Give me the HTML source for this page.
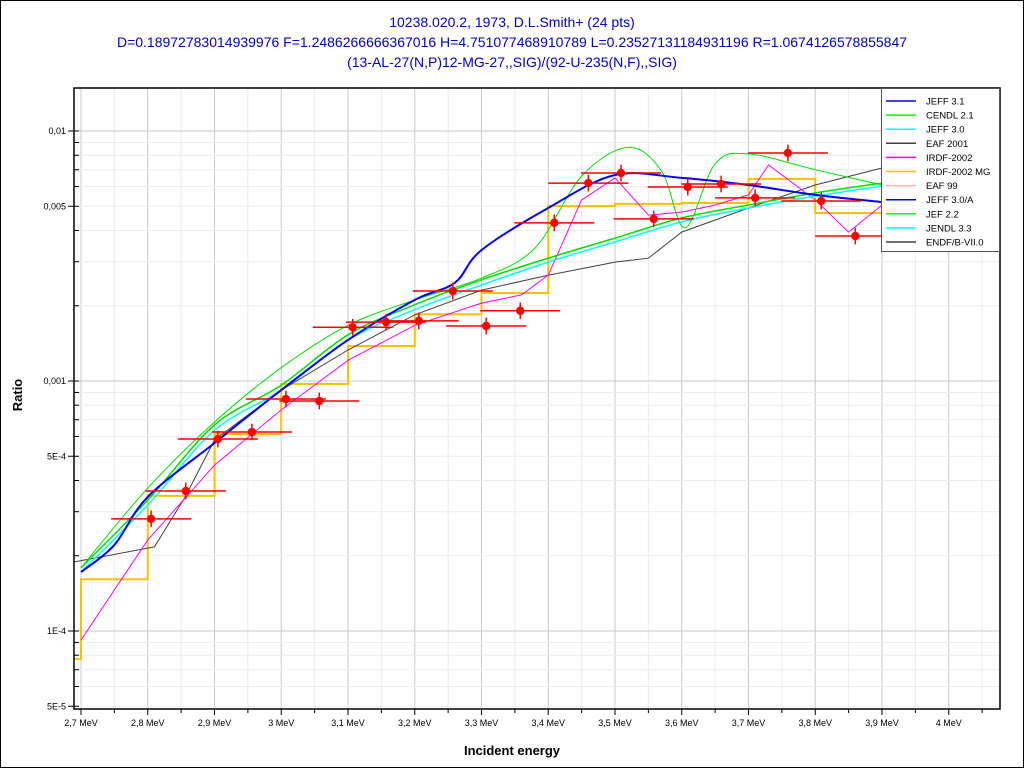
<!DOCTYPE html>
<html><head><meta charset="utf-8"><style>
body{margin:0;background:#fff;}
svg{display:block;font-family:"Liberation Sans",Arial,sans-serif;}
</style></head><body>
<svg id="chart" width="1024" height="768" viewBox="0 0 1024 768">
<rect x="0.5" y="0.5" width="1023" height="767" fill="#fff" stroke="#000"/>
<g fill="#0000c8" font-size="14" text-anchor="middle">
<text x="512" y="27">10238.020.2, 1973, D.L.Smith+ (24 pts)</text>
<text x="512" y="47">D=0.18972783014939976 F=1.2486266666367016 H=4.751077468910789 L=0.23527131184931196 R=1.0674126578855847</text>
<text x="512" y="67">(13-AL-27(N,P)12-MG-27,,SIG)/(92-U-235(N,F),,SIG)</text>
</g>
<g id="grid"></g>
<g id="plot"></g>
<g id="axes"></g>
<text x="22" y="395" transform="rotate(-90 22 395)" font-size="13" font-weight="bold" text-anchor="middle">Ratio</text>
<text x="512" y="755" font-size="13" font-weight="bold" text-anchor="middle">Incident energy</text>
<g id="legend"></g>
</svg>
<script>
// ---- data ----
const xTicks=[2.7,2.8,2.9,3.0,3.1,3.2,3.3,3.4,3.5,3.6,3.7,3.8,3.9,4.0];
const xTickLabels=["2,7 MeV","2,8 MeV","2,9 MeV","3 MeV","3,1 MeV","3,2 MeV","3,3 MeV","3,4 MeV","3,5 MeV","3,6 MeV","3,7 MeV","3,8 MeV","3,9 MeV","4 MeV"];
const yTicks=[0.01,0.005,0.001,0.0005,0.0001,0.00005];
const yTickLabels=["0,01","0,005","0,001","5E-4","1E-4","5E-5"];
const expE=[2.805,2.857,2.905,2.956,3.007,3.057,3.107,3.157,3.206,3.257,3.307,3.358,3.409,3.46,3.509,3.558,3.609,3.659,3.71,3.759,3.809,3.86];
const expV=[2.81e-4,3.63e-4,5.86e-4,6.25e-4,8.47e-4,8.32e-4,1.64e-3,1.72e-3,1.74e-3,2.29e-3,1.66e-3,1.91e-3,4.29e-3,6.19e-3,6.79e-3,4.45e-3,5.97e-3,6.14e-3,5.40e-3,8.17e-3,5.25e-3,3.80e-3];
const expDE=0.06;
const blueE=[2.7,2.75,2.8,2.9,3.0,3.1,3.2,3.26,3.3,3.4,3.5,3.6,3.7,3.8,3.9];
const blueV=[1.72e-4,2.21e-4,3.44e-4,5.65e-4,9.2e-4,1.46e-3,2.11e-3,2.47e-3,3.34e-3,4.92e-3,6.67e-3,6.49e-3,6.08e-3,5.55e-3,5.2e-3];
const cendlE=[2.7,2.8,2.9,3.0,3.1,3.2,3.3,3.38,3.45,3.52,3.57,3.605,3.65,3.7,3.8,3.9];
const cendlV=[1.79e-4,3.73e-4,6.85e-4,1.13e-3,1.67e-3,2.11e-3,2.58e-3,3.4e-3,6.6e-3,8.6e-3,6.9e-3,4.1e-3,7.4e-3,8.1e-3,7.0e-3,6.08e-3];
const jefE=[2.7,2.8,2.9,3.0,3.1,3.2,3.3,3.4,3.5,3.6,3.7,3.8,3.9];
const jefV=[1.79e-4,3.34e-4,6.67e-4,9.62e-4,1.53e-3,2.02e-3,2.54e-3,3.1e-3,3.73e-3,4.49e-3,5.06e-3,5.65e-3,6.19e-3];
const cyanV=[1.72e-4,3.19e-4,6.35e-4,9.2e-4,1.46e-3,1.93e-3,2.42e-3,2.99e-3,3.6e-3,4.33e-3,4.92e-3,5.49e-3,6.02e-3];
const eafE=[2.69,2.81,2.855,2.9,3.0,3.1,3.2,3.3,3.4,3.5,3.55,3.6,3.7,3.8,3.9];
const eafV=[1.89e-4,2.17e-4,3.4e-4,5.81e-4,9.2e-4,1.33e-3,1.84e-3,2.31e-3,2.65e-3,2.99e-3,3.1e-3,3.94e-3,4.92e-3,6.08e-3,7.11e-3];
const irdfE=[2.7,2.75,2.8,2.9,3.0,3.1,3.2,3.3,3.36,3.4,3.45,3.5,3.55,3.6,3.65,3.7,3.73,3.8,3.85,3.9];
const irdfV=[9.2e-5,1.46e-4,2.31e-4,4.61e-4,7.66e-4,1.21e-3,1.67e-3,2.05e-3,2.21e-3,2.65e-3,5.3e-3,6.49e-3,4.61e-3,4.74e-3,5.06e-3,5.55e-3,7.31e-3,5.3e-3,3.94e-3,5.06e-3];
const mgEdges=[2.69,2.7,2.8,2.9,3.0,3.1,3.2,3.3,3.4,3.5,3.6,3.7,3.8,3.9];
const mgV=[7.73e-5,1.61e-4,3.47e-4,6.14e-4,9.73e-4,1.38e-3,1.85e-3,2.25e-3,5.01e-3,5.11e-3,5.15e-3,6.43e-3,4.7e-3];
const legendNames=["JEFF 3.1","CENDL 2.1","JEFF 3.0","EAF 2001","IRDF-2002","IRDF-2002 MG","EAF 99","JEFF 3.0/A","JEF 2.2","JENDL 3.3","ENDF/B-VII.0"];
const legendColors=["#0000ff","#00ff00","#00ffff","#404040","#ff00ff","#ffc000","#ffb0b0","#0000ff","#00ff00","#00ffff","#404040"];

// ---- scales ----
const L=74,R=1000,T=88,B=709;
function X(e){return 81+(e-2.7)*667.5;}
function Y(v){return 131-(Math.log10(v)+2)*250;}
const NS="http://www.w3.org/2000/svg";
function mk(tag,attrs,parent){const el=document.createElementNS(NS,tag);for(const k in attrs)el.setAttribute(k,attrs[k]);parent.appendChild(el);return el;}
const grid=document.getElementById('grid'),plot=document.getElementById('plot'),axes=document.getElementById('axes'),leg=document.getElementById('legend');

// grid
for(let e=2.7;e<=4.06;e+=0.05){
  const major=Math.abs(Math.round(e*10)-e*10)<1e-6;
  const g=mk('line',{x1:X(e),x2:X(e),y1:T,y2:B,stroke:major?'#c8c8c8':'#ececec','stroke-width':1},grid);
  
  const t=mk('line',{x1:X(e),x2:X(e),y1:B,y2:B+(major?6:4),stroke:'#000'},axes);
  
}
for(let d=-5;d<=-2;d++){for(let m=1;m<=9;m++){
  const v=m*Math.pow(10,d);const y=Y(v);if(y<T||y>B)continue;
  const g=mk('line',{x1:L,x2:R,y1:y,y2:y,stroke:m==1?'#c8c8c8':'#ececec'},grid);
  
  const t=mk('line',{x1:L-(m==1||m==5?6:0),x2:L+5,y1:y,y2:y,stroke:'#000'},axes);
  
}}
xTicks.forEach((e,i)=>{const t=mk('text',{x:X(e),y:726,'font-size':9,'text-anchor':'middle'},axes);t.textContent=xTickLabels[i];
});
yTicks.forEach((v,i)=>{const t=mk('text',{x:L-8,y:Y(v)+3,'font-size':9,'text-anchor':'end'},axes);t.textContent=yTickLabels[i];
});
const fr=mk('rect',{x:L,y:T,width:R-L,height:B-T,fill:'none',stroke:'#000','stroke-width':1.5},axes);


// clip
const defs=mk('defs',{},plot);const cp=mk('clipPath',{id:'cp'},defs);mk('rect',{x:L,y:T,width:R-L,height:B-T},cp);
const pg=mk('g',{'clip-path':'url(#cp)'},plot);
function line(E,V,color,w,name,smooth){
  const P=E.map((e,i)=>[X(e),Y(V[i])]);
  let d='M'+P[0][0].toFixed(1)+','+P[0][1].toFixed(1);
  for(let i=0;i<P.length-1;i++){
    if(!smooth){d+='L'+P[i+1][0].toFixed(1)+','+P[i+1][1].toFixed(1);continue;}
    const p0=P[Math.max(0,i-1)],p1=P[i],p2=P[i+1],p3=P[Math.min(P.length-1,i+2)];
    const c1=[p1[0]+(p2[0]-p0[0])/6,p1[1]+(p2[1]-p0[1])/6],c2=[p2[0]-(p3[0]-p1[0])/6,p2[1]-(p3[1]-p1[1])/6];
    d+='C'+c1.map(n=>n.toFixed(1)).join(',')+' '+c2.map(n=>n.toFixed(1)).join(',')+' '+p2[0].toFixed(1)+','+p2[1].toFixed(1);
  }
  const p=mk('path',{d:d,fill:'none',stroke:color,'stroke-width':w},pg);
  
}
// step
(function(){let d='';mgV.forEach((v,i)=>{const x1=X(mgEdges[i]),x2=X(mgEdges[i+1]),y=Y(v);d+=(i?'L':'M')+x1.toFixed(1)+','+y.toFixed(1)+'L'+x2.toFixed(1)+','+y.toFixed(1);});
const p=mk('path',{d:d,fill:'none',stroke:'#ffc000','stroke-width':2},pg);
})();
line(eafE,eafV,'#404040',1,'series-eaf-2001',false);
line(irdfE,irdfV,'#ff00ff',1,'series-irdf-2002',false);
line(jefE,cyanV,'#00ffff',1.5,'series-jendl-3-3',true);
line(jefE,jefV,'#00e000',1.5,'series-jef-2-2',true);
line(cendlE,cendlV,'#00e000',1,'series-cendl-2-1',true);
line(blueE,blueV,'#0000ff',2,'series-jeff-3-1',true);
// experimental points
expE.forEach((e,i)=>{
  const v=expV[i],x=X(e),y=Y(v);
  const g=mk('g',{},pg);
  mk('line',{x1:X(e-expDE),x2:X(e+expDE),y1:y,y2:y,stroke:'#ff0000','stroke-width':1.5},g);
  mk('line',{x1:x,x2:x,y1:Y(v*1.08),y2:Y(v/1.08),stroke:'#ff0000','stroke-width':1.5},g);
  mk('circle',{cx:x,cy:y,r:4.2,fill:'#ff0000'},g);
});
// legend
const lb=mk('rect',{x:881.5,y:88.5,width:118,height:163,fill:'#fff',stroke:'#555'},leg);

legendNames.forEach((n,i)=>{const y=101+i*14.1;
  const g=mk('g',{},leg);
  mk('line',{x1:886,x2:916,y1:y,y2:y,stroke:legendColors[i],'stroke-width':1.5},g);
  const t=mk('text',{x:926,y:y+3.5,'font-size':9.5},g);t.textContent=n;});
</script>
</body></html>
